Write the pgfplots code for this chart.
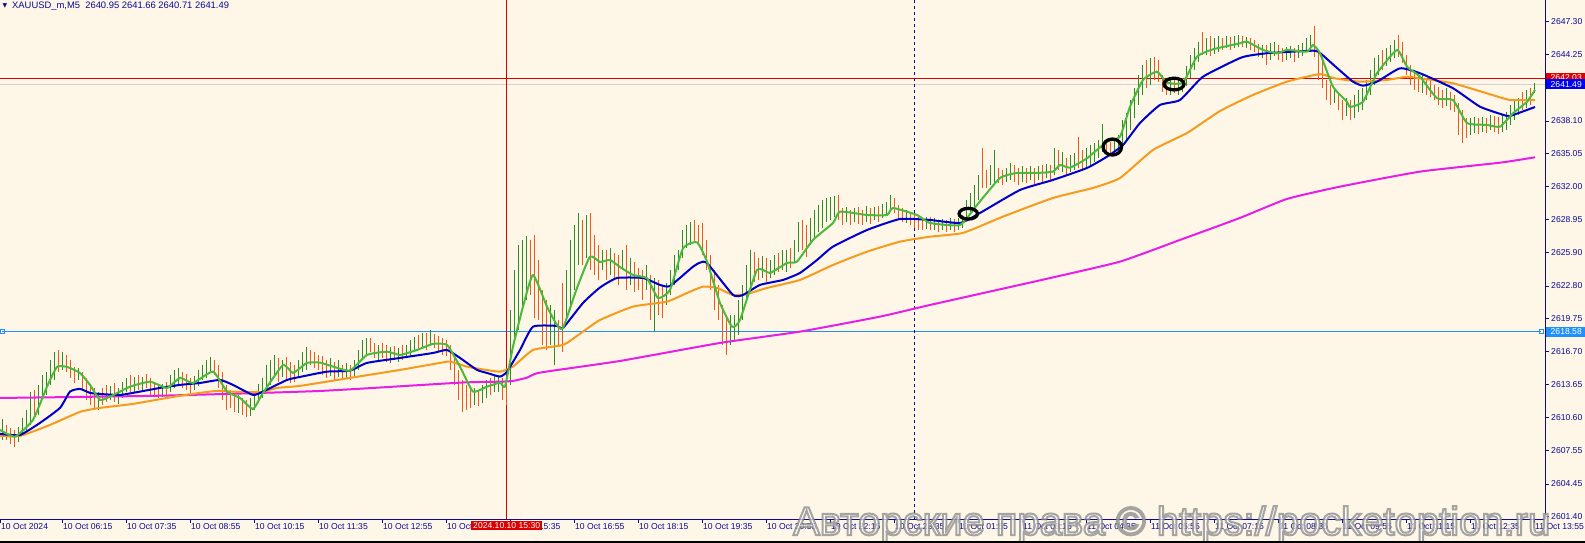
\documentclass[border=0pt]{standalone}
\usepackage{pgfplots}
\usepackage{pgfplotstable}
\pgfplotsset{compat=1.18}
\usepackage{fontspec}
\setmainfont{Liberation Sans}
\newfontfamily\dejavu{DejaVu Sans}
\definecolor{bgc}{RGB}{254,246,231}
\definecolor{navyc}{RGB}{10,10,150}
\definecolor{upc}{RGB}{45,140,35}
\definecolor{dnc}{RGB}{235,90,25}
\definecolor{gma}{RGB}{75,185,60}
\definecolor{bma}{RGB}{0,0,205}
\definecolor{oma}{RGB}{245,155,30}
\definecolor{mma}{RGB}{230,30,230}
\definecolor{hl}{RGB}{30,144,255}
\definecolor{redl}{RGB}{220,0,0}
\definecolor{bidb}{RGB}{0,0,240}
\newcommand{\lab}{\fontsize{8.6}{10}\selectfont}
\begin{document}
\pgfplotstableread{
x l h
2 2608.52 2610.47
18 2608.34 2609.73
22 2608.89 2610.56
26 2609.26 2611.30
30 2609.91 2612.97
38 2610.84 2613.62
42 2612.23 2614.55
46 2612.69 2614.83
50 2613.62 2615.94
54 2614.08 2616.68
62 2615.01 2616.68
78 2614.08 2615.20
98 2611.30 2612.97
110 2612.23 2613.53
118 2611.86 2613.34
122 2612.42 2613.90
126 2612.97 2614.27
134 2612.88 2614.36
142 2613.06 2614.36
162 2612.51 2613.71
170 2612.97 2614.55
174 2613.34 2615.01
178 2613.62 2615.20
194 2613.16 2614.45
198 2613.53 2615.01
202 2614.08 2615.47
206 2614.27 2615.94
210 2614.73 2616.22
238 2611.02 2612.69
250 2610.75 2612.42
254 2611.30 2612.88
258 2611.95 2613.71
262 2612.42 2614.27
266 2612.97 2615.47
270 2613.62 2615.94
274 2614.55 2616.40
282 2614.36 2615.94
298 2614.27 2615.94
302 2614.83 2616.68
306 2615.01 2617.14
330 2614.45 2616.12
338 2614.36 2615.94
346 2614.27 2615.66
354 2614.36 2615.94
358 2615.01 2616.86
362 2615.94 2617.79
366 2616.40 2617.98
378 2615.94 2617.33
390 2615.66 2617.14
398 2615.75 2617.05
406 2616.12 2617.33
410 2616.31 2617.79
414 2616.68 2618.07
422 2617.05 2618.44
430 2617.24 2618.72
474 2611.77 2613.34
482 2611.95 2613.62
486 2612.42 2614.08
494 2612.97 2614.45
498 2612.97 2614.55
510 2613.62 2620.57
514 2617.79 2624.28
518 2618.72 2626.60
522 2620.57 2627.06
526 2621.50 2627.43
550 2617.33 2621.04
554 2615.47 2620.57
566 2619.65 2624.28
570 2620.57 2627.06
574 2622.43 2628.45
578 2624.74 2629.56
586 2625.39 2629.38
602 2624.28 2626.13
610 2623.82 2626.32
622 2624.28 2626.13
630 2622.89 2625.39
646 2622.43 2624.74
654 2618.63 2623.54
666 2621.04 2623.08
670 2621.96 2624.28
674 2622.89 2625.67
678 2624.28 2626.13
682 2625.39 2627.99
686 2626.32 2628.45
690 2626.60 2628.73
730 2617.33 2620.11
734 2617.79 2620.11
738 2618.26 2621.50
742 2619.65 2622.89
746 2621.50 2624.74
750 2622.89 2626.13
762 2623.54 2625.58
770 2623.54 2625.21
774 2623.82 2625.67
782 2624.28 2626.13
786 2624.10 2626.13
794 2625.02 2627.06
798 2625.95 2628.73
810 2626.60 2629.10
814 2627.25 2629.84
818 2627.80 2630.31
822 2628.17 2630.77
826 2628.73 2630.96
830 2628.92 2631.05
834 2629.19 2631.14
846 2628.73 2630.12
854 2628.73 2630.03
866 2628.73 2630.21
874 2628.92 2630.12
882 2629.10 2630.40
886 2629.38 2630.58
890 2629.66 2631.23
906 2628.64 2629.84
926 2628.08 2629.19
934 2627.99 2629.10
942 2627.99 2629.01
950 2627.99 2629.10
958 2627.99 2629.10
962 2628.17 2629.38
966 2628.92 2630.77
970 2629.38 2631.42
974 2629.84 2632.16
978 2630.77 2633.09
990 2632.16 2634.01
994 2632.16 2635.40
1006 2632.44 2633.74
1010 2632.62 2634.20
1022 2632.44 2633.92
1030 2632.62 2633.92
1038 2632.62 2633.92
1046 2632.81 2634.11
1054 2633.09 2635.59
1062 2633.37 2635.22
1070 2633.37 2634.94
1074 2633.55 2635.13
1086 2633.74 2635.59
1090 2634.01 2635.87
1094 2634.29 2636.05
1098 2634.66 2636.33
1102 2635.22 2637.82
1114 2635.22 2636.52
1118 2635.40 2636.80
1122 2635.87 2638.19
1126 2636.33 2638.83
1130 2637.26 2640.04
1134 2638.37 2641.15
1138 2639.58 2642.36
1142 2640.50 2643.28
1150 2641.43 2643.93
1170 2640.50 2641.89
1178 2640.50 2641.89
1182 2640.78 2642.08
1186 2641.34 2643.19
1190 2642.08 2644.21
1194 2642.82 2644.86
1198 2643.56 2645.42
1206 2644.21 2645.79
1214 2644.30 2645.79
1218 2644.49 2645.97
1226 2644.86 2645.97
1234 2644.86 2645.97
1238 2644.95 2646.07
1246 2644.86 2645.88
1262 2643.93 2645.14
1270 2643.75 2645.32
1274 2644.12 2645.42
1286 2643.75 2644.95
1290 2643.93 2645.05
1298 2643.93 2645.14
1302 2644.12 2645.32
1306 2644.49 2645.79
1310 2644.67 2646.07
1334 2639.76 2641.15
1346 2638.56 2640.23
1354 2638.37 2640.50
1358 2638.93 2640.97
1362 2639.11 2641.15
1366 2640.04 2641.89
1370 2640.50 2642.82
1374 2641.43 2643.93
1378 2642.36 2644.21
1386 2643.19 2644.86
1390 2643.56 2645.14
1394 2643.93 2645.60
1422 2640.69 2642.36
1446 2639.48 2641.15
1470 2636.80 2638.37
1474 2636.98 2638.46
1482 2637.07 2638.46
1490 2637.26 2638.65
1502 2637.07 2638.65
1506 2637.26 2638.93
1510 2637.72 2639.58
1514 2638.19 2640.04
1518 2638.65 2640.23
1526 2639.30 2640.97
1534 2640.71 2641.66
}\upbars
\pgfplotstableread{
x l h
6 2608.52 2609.91
10 2608.15 2609.63
14 2607.87 2609.45
34 2610.56 2613.16
58 2614.83 2616.86
66 2614.83 2616.40
70 2614.27 2615.94
74 2613.81 2615.29
82 2613.16 2614.83
86 2612.23 2614.27
90 2611.77 2613.62
94 2611.49 2613.34
102 2611.77 2613.34
106 2612.04 2613.62
114 2612.04 2613.81
130 2612.97 2614.55
138 2613.16 2614.55
146 2613.34 2614.64
150 2612.69 2614.27
154 2612.60 2613.90
158 2612.42 2613.62
166 2612.60 2613.90
182 2613.34 2614.83
186 2613.16 2614.64
190 2612.88 2614.27
214 2614.55 2615.94
218 2613.34 2615.47
222 2612.23 2614.83
226 2611.30 2613.62
230 2611.49 2613.16
234 2611.12 2612.88
242 2610.84 2612.42
246 2610.65 2612.23
278 2613.90 2616.12
286 2614.08 2616.22
290 2613.81 2615.75
294 2613.90 2615.47
310 2615.47 2616.86
314 2615.20 2616.68
318 2615.01 2616.40
322 2614.55 2616.31
326 2614.27 2615.94
334 2614.08 2615.75
342 2614.08 2615.47
350 2614.08 2615.47
370 2616.68 2617.98
374 2616.12 2617.51
382 2616.12 2617.51
386 2615.75 2617.33
394 2615.94 2617.24
402 2615.94 2617.33
418 2616.86 2618.26
426 2616.86 2618.44
434 2617.05 2618.35
438 2616.68 2618.16
442 2616.40 2617.98
446 2616.31 2617.79
450 2615.01 2617.33
454 2613.62 2616.40
458 2612.23 2615.01
462 2611.12 2614.08
466 2611.30 2613.62
470 2611.49 2613.16
478 2611.67 2613.16
490 2612.69 2614.27
502 2612.23 2614.27
506 2611.77 2613.81
530 2621.96 2627.06
534 2619.83 2627.53
538 2619.65 2625.21
542 2617.33 2622.43
546 2616.86 2621.50
558 2617.14 2619.65
562 2616.68 2623.08
582 2624.74 2628.92
590 2624.28 2629.56
594 2623.82 2627.53
598 2623.35 2626.60
606 2623.35 2626.13
614 2623.35 2625.86
618 2622.89 2625.67
626 2622.43 2626.60
634 2622.24 2625.02
638 2622.43 2624.47
642 2621.50 2624.28
650 2619.65 2623.82
658 2620.11 2623.35
662 2619.83 2622.89
694 2626.88 2628.92
698 2626.60 2628.45
702 2625.67 2628.64
706 2624.28 2627.06
710 2622.43 2625.67
714 2620.57 2624.28
718 2619.65 2622.89
722 2617.33 2621.04
726 2616.40 2619.83
754 2623.17 2625.95
758 2623.35 2625.39
766 2623.17 2625.39
778 2624.10 2625.86
790 2624.47 2626.32
802 2626.13 2628.92
806 2625.49 2628.45
838 2628.92 2631.23
842 2628.45 2630.03
850 2628.45 2629.84
858 2628.55 2630.12
862 2628.45 2629.84
870 2628.55 2630.03
878 2628.73 2630.21
894 2629.56 2630.96
898 2628.92 2630.31
902 2628.73 2630.03
910 2628.45 2629.66
914 2628.17 2629.47
918 2627.99 2629.29
922 2627.99 2629.10
930 2627.99 2629.19
938 2627.80 2628.92
946 2627.80 2628.92
954 2627.80 2629.01
982 2631.88 2635.59
986 2631.88 2633.55
998 2632.35 2633.74
1002 2632.16 2633.55
1014 2632.44 2634.01
1018 2632.16 2633.74
1026 2632.35 2633.74
1034 2632.25 2633.74
1042 2632.44 2634.01
1050 2632.62 2634.01
1058 2633.55 2635.40
1066 2633.09 2634.66
1078 2633.74 2636.61
1082 2633.55 2635.40
1106 2634.94 2636.33
1110 2634.94 2636.15
1146 2641.15 2643.75
1154 2641.89 2644.03
1158 2641.71 2643.75
1162 2640.78 2642.36
1166 2640.50 2642.08
1174 2640.69 2642.08
1202 2644.21 2646.34
1210 2644.12 2645.97
1222 2644.67 2645.79
1230 2644.67 2645.88
1242 2644.95 2645.97
1250 2644.67 2645.79
1254 2644.49 2645.60
1258 2644.03 2645.23
1266 2643.28 2645.14
1278 2643.75 2645.14
1282 2643.56 2644.86
1294 2643.56 2644.86
1314 2644.03 2646.90
1318 2641.89 2644.67
1322 2641.15 2643.75
1326 2640.04 2641.89
1330 2639.58 2641.43
1338 2639.11 2640.78
1342 2638.19 2640.04
1350 2638.19 2640.04
1382 2642.82 2644.67
1398 2644.03 2646.07
1402 2643.47 2645.42
1406 2642.36 2644.21
1410 2641.43 2643.28
1414 2640.97 2642.82
1418 2640.78 2642.54
1426 2640.50 2642.08
1430 2640.32 2641.89
1434 2640.04 2641.43
1438 2639.58 2641.25
1442 2639.30 2640.97
1450 2639.11 2640.78
1454 2638.93 2640.50
1458 2636.80 2639.76
1462 2636.05 2639.11
1466 2636.52 2638.37
1478 2636.89 2638.37
1486 2636.98 2638.37
1494 2637.07 2638.56
1498 2636.89 2638.46
1522 2639.11 2640.78
1530 2639.58 2641.15
}\dnbars
\begin{tikzpicture}
\path[use as bounding box, fill=bgc] (0pt,0pt) rectangle (1585pt,-543pt);
\begin{axis}[
  at={(0pt,0pt)}, anchor=north west,
  scale only axis, width=1545pt, height=519pt,
  xmin=0, xmax=1545, ymin=2601.20, ymax=2649.31,
  axis x line*=bottom, axis y line*=right,
  axis line style={navyc, line width=1pt, -},
  tick align=outside, major tick length=4pt,
  tick style={navyc, line width=0.8pt},
  clip mode=individual,
  scaled y ticks=false,
  xtick={0,62,126,190,254,318,382,446,510,574,638,702,766,830,894,958,1022,1086,1150,1214,1278,1342,1406,1470,1534},
  xticklabels={10 Oct 2024,10 Oct 06:15,10 Oct 07:35,10 Oct 08:55,10 Oct 10:15,10 Oct 11:35,10 Oct 12:55,10 Oct 14:15,10 Oct 15:35,10 Oct 16:55,10 Oct 18:15,10 Oct 19:35,10 Oct 20:55,10 Oct 22:15,10 Oct 23:35,11 Oct 01:55,11 Oct 03:15,11 Oct 04:35,11 Oct 05:55,11 Oct 07:15,11 Oct 08:35,11 Oct 09:55,11 Oct 11:15,11 Oct 12:35,11 Oct 13:55},
  ytick={2601.40,2604.45,2607.55,2610.60,2613.65,2616.70,2619.75,2622.80,2625.90,2628.95,2632.00,2635.05,2638.10,2644.25,2647.30},
  xticklabel style={anchor=north west, inner sep=0pt, xshift=1pt, yshift=-0.5pt, font=\lab, text=navyc},
  yticklabel style={anchor=west, inner sep=0pt, xshift=2pt, font=\lab, text=navyc,
    /pgf/number format/fixed, /pgf/number format/fixed zerofill,
    /pgf/number format/precision=2, /pgf/number format/1000 sep={},
    /pgf/number format/assume math mode=true},
]
% horizontal and vertical lines
\addplot[gray!35, line width=1pt] coordinates {(0,2641.49) (1545,2641.49)};
\addplot[redl, line width=1pt] coordinates {(0,2642.03) (1545,2642.03)};
\addplot[hl, line width=1pt, mark=square, mark size=2pt, mark options={solid, fill=bgc}] coordinates {(2,2618.58) (1541,2618.58)};
\addplot[redl, line width=1pt] coordinates {(506.7,2601.2) (506.7,2649.31)};
\addplot[navyc, line width=1pt, dash pattern=on 3pt off 3pt] coordinates {(914,2601.2) (914,2649.31)};
% bars
\addplot[draw=none, mark=none, error bars/.cd, y dir=plus, y explicit, error mark=none,
  error bar style={draw=upc, solid, line width=1pt}]
  table[x=x, y=l, y error expr=\thisrow{h}-\thisrow{l}] {\upbars};
\addplot[draw=none, mark=none, error bars/.cd, y dir=plus, y explicit, error mark=none,
  error bar style={draw=dnc, solid, line width=1pt}]
  table[x=x, y=l, y error expr=\thisrow{h}-\thisrow{l}] {\dnbars};
% moving averages
\addplot[mma, line width=2pt, line join=round, smooth, tension=0.3] coordinates {
(0,2612.42)(160,2612.63)(320,2613.07)(460,2613.84)(500,2613.93)(513,2614.0)(527,2614.3)(540,2614.77)(620,2615.85)(720,2617.52)(800,2618.57)(880,2619.96)(930,2621.04)(1046,2623.45)(1120,2625.06)(1180,2627.07)(1240,2629.11)(1287,2630.87)(1340,2632.01)(1420,2633.40)(1500,2634.23)(1535,2634.73)};
\addplot[oma, line width=2pt, line join=round, smooth, tension=0.3] coordinates {
(0,2608.90)(20,2608.90)(50,2609.92)(80,2611.13)(100,2611.50)(133,2611.87)(173,2612.52)(200,2612.89)(217,2613.07)(240,2612.98)(263,2612.98)(277,2613.35)(300,2613.54)(350,2614.28)(400,2615.02)(440,2615.67)(450,2615.79)(466.7,2615.33)(480,2615.11)(500,2614.86)(513,2615.33)(533,2616.87)(560,2617.27)(567,2617.52)(583,2618.57)(600,2619.65)(633,2620.89)(667,2621.35)(687,2622.15)(703,2622.74)(717,2622.62)(733,2621.97)(747,2622.06)(767,2622.62)(800,2623.36)(833,2624.75)(867,2625.98)(900,2626.91)(930,2627.37)(963,2627.72)(1003,2629.23)(1053,2630.96)(1093,2631.89)(1120,2632.81)(1153,2635.41)(1187,2636.98)(1220,2639.02)(1253,2640.51)(1287,2641.74)(1320,2642.45)(1333,2642.08)(1360,2641.74)(1387,2641.90)(1407,2642.20)(1420,2642.05)(1453,2641.59)(1487,2640.66)(1510,2640.04)(1535,2640.04)};
\addplot[bma, line width=2pt, line join=round, smooth, tension=0.3] coordinates {
(0,2609.09)(20,2608.99)(40,2610.11)(60,2611.50)(70,2613.01)(80,2613.26)(90,2612.89)(100,2612.79)(120,2612.70)(140,2613.01)(160,2613.35)(180,2613.63)(200,2613.81)(220,2614.09)(233,2613.63)(253,2612.70)(263,2613.01)(287,2614.09)(300,2614.37)(327,2614.86)(350,2614.95)(367,2615.67)(400,2616.13)(433,2616.59)(447,2616.87)(460,2616.13)(477,2615.02)(487,2614.74)(500,2614.40)(507,2614.86)(520,2616.87)(533,2619.03)(557,2619.10)(563,2618.91)(583,2621.23)(600,2622.66)(617,2623.54)(643,2623.54)(660,2622.90)(670,2622.80)(693,2624.59)(700,2624.96)(707,2624.93)(733,2621.97)(743,2621.97)(760,2622.90)(783,2623.36)(800,2624.01)(817,2625.21)(833,2626.45)(867,2627.99)(900,2629.01)(930,2628.92)(960,2628.64)(980,2629.57)(1020,2631.70)(1053,2632.63)(1087,2633.74)(1107,2634.79)(1123,2635.87)(1140,2637.91)(1160,2639.58)(1180,2640.04)(1203,2642.20)(1240,2643.93)(1253,2644.21)(1270,2644.40)(1313,2644.61)(1320,2644.40)(1337,2643.01)(1353,2641.74)(1363,2641.37)(1377,2641.74)(1400,2642.98)(1420,2642.52)(1453,2641.13)(1480,2639.42)(1507,2638.56)(1513,2638.65)(1535,2639.39)};
\addplot[gma, line width=2pt, line join=round, smooth, tension=0.3] coordinates {
(0,2609.46)(15,2608.84)(33,2610.39)(47,2613.47)(57,2615.30)(67,2615.30)(80,2614.74)(90,2613.63)(100,2612.24)(110,2612.54)(130,2613.47)(150,2613.93)(167,2613.35)(180,2614.28)(193,2613.81)(213,2614.86)(227,2613.01)(240,2612.42)(253,2611.40)(263,2612.89)(283,2615.48)(293,2614.74)(307,2615.67)(320,2615.70)(333,2615.33)(350,2614.95)(367,2616.41)(387,2616.71)(400,2616.41)(417,2616.87)(433,2617.43)(447,2617.34)(460,2615.32)(473,2613.01)(487,2613.47)(500,2613.84)(505,2613.47)(513,2617.18)(523,2620.89)(533,2623.82)(547,2620.89)(557,2619.19)(563,2618.91)(577,2622.62)(590,2625.52)(600,2625.03)(610,2625.21)(620,2624.56)(633,2623.82)(647,2623.52)(658,2621.69)(670,2622.43)(683,2626.30)(697,2626.85)(707,2625.06)(720,2621.23)(732,2619.03)(740,2619.65)(757,2624.29)(770,2624.01)(787,2624.94)(797,2625.06)(813,2627.07)(833,2628.64)(840,2629.69)(867,2629.38)(887,2629.38)(893,2630.03)(917,2629.38)(930,2628.64)(960,2628.46)(977,2630.31)(1000,2632.81)(1017,2633.28)(1037,2633.28)(1053,2633.40)(1060,2634.02)(1070,2633.77)(1087,2634.64)(1107,2636.18)(1120,2636.64)(1130,2639.42)(1143,2641.90)(1157,2642.67)(1167,2641.65)(1183,2641.65)(1197,2644.06)(1213,2644.74)(1240,2645.30)(1247,2645.45)(1263,2644.68)(1277,2644.37)(1287,2644.68)(1307,2644.52)(1313,2645.14)(1320,2644.37)(1333,2641.27)(1347,2639.88)(1350,2639.39)(1363,2639.88)(1377,2642.52)(1397,2644.68)(1407,2643.13)(1420,2642.20)(1437,2640.20)(1453,2640.04)(1467,2637.91)(1487,2637.73)(1500,2637.57)(1513,2638.81)(1527,2639.88)(1535,2640.97)};
% hand-drawn ellipses
\addplot[only marks, mark=o, mark size=5.35pt, mark options={line width=3.3pt, draw=black, xscale=1.72}] coordinates {(968.3,2629.50)};
\addplot[only marks, mark=o, mark size=8pt, mark options={line width=3.3pt, draw=black, xscale=1.15}] coordinates {(1112.3,2635.68)};
\addplot[only marks, mark=o, mark size=5.85pt, mark options={line width=3.3pt, draw=black, xscale=1.71}] coordinates {(1174,2641.52)};
\coordinate (pbR) at (axis cs:1545,2642.03);
\coordinate (pbB) at (axis cs:1545,2641.49);
\coordinate (pbL) at (axis cs:1545,2618.58);
\coordinate (tl) at (axis cs:506.7,2601.2);
\end{axis}
% price boxes
\node[fill=redl, text=white, anchor=west, inner sep=0pt, minimum height=9pt, text width=40pt, align=left, font=\lab] at ([xshift=0.5pt,yshift=1pt]pbR) {\hspace*{5pt}2642.03};
\node[fill=bidb, text=white, anchor=west, inner sep=0pt, minimum height=10pt, text width=40pt, align=left, font=\lab] at ([xshift=0.5pt]pbB) {\hspace*{5pt}2641.49};
\node[fill=hl, text=white, anchor=west, inner sep=0pt, minimum height=10pt, text width=40pt, align=left, font=\lab] at ([xshift=0.5pt]pbL) {\hspace*{5pt}2618.58};
\node[fill=redl, text=white, anchor=north, inner xsep=2pt, inner ysep=1.5pt, font=\lab] at ([yshift=-1.5pt]tl) {2024.10.10 15:30};
% title
\node[text=navyc, inner sep=0pt, font=\dejavu\fontsize{6}{6}\selectfont] at (5pt,-6pt) {▼};
\node[anchor=west, text=navyc, inner sep=0pt, font=\fontsize{9.4}{10}\selectfont] at (12pt,-6pt) {XAUUSD\_m,M5\ \ 2640.95 2641.66 2640.71 2641.49};
% watermark
\node[anchor=base west, inner sep=0pt, opacity=0.7, text=white, font=\fontsize{40}{42}\selectfont] at (793pt,-535pt) {\special{pdf:literal direct 2 Tr 2 w 0.5 0.5 0.5 RG}Авторские права © https://pocketoption.ru\special{pdf:literal direct 0 Tr}};
\draw[black, line width=2pt] (0pt,-542pt) -- (1585pt,-542pt);
\end{tikzpicture}
\end{document}
